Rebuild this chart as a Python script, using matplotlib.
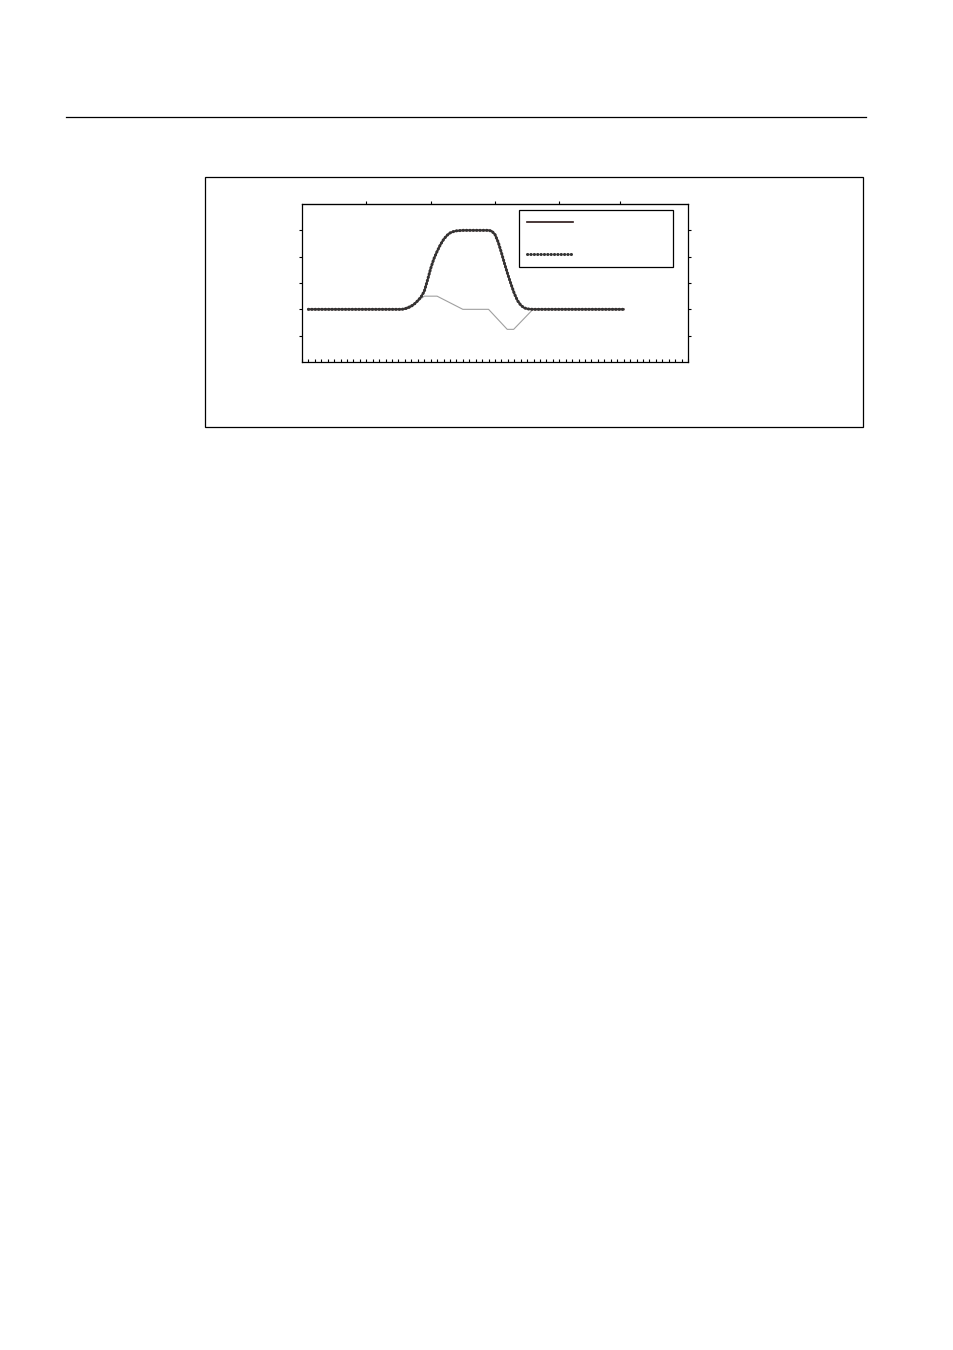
"""Step-profile chart: smooth plateau curve with a thin difference trace."""

import matplotlib

matplotlib.use("Agg")

import matplotlib.pyplot as plt
from matplotlib.lines import Line2D
from matplotlib.patches import Rectangle

FIG_W_PX = 954
FIG_H_PX = 1350
DPI = 100

# x positions (step 0.5) and the plateau profile
RISE_X = [15.5, 16.0, 16.5, 17.0, 17.5, 18.0, 18.5, 19.0, 19.5, 20.0,
          20.5, 21.0, 21.5, 22.0, 22.5, 23.0, 23.5, 24.0, 24.5]
RISE_Y = [0.0, 0.02, 0.06, 0.12, 0.21, 0.33, 0.47, 0.68, 1.10, 1.55,
          1.92, 2.20, 2.45, 2.65, 2.80, 2.90, 2.95, 2.98, 2.99]
PLATEAU_X = [25.0, 25.5, 26.0, 26.5, 27.0, 27.5, 28.0, 28.5, 29.0]
PLATEAU_Y = [3.0, 3.0, 3.0, 3.0, 3.0, 3.0, 3.0, 3.0, 3.0]
FALL_X = [29.5, 30.0, 30.5, 31.0, 31.5, 32.0, 32.5, 33.0, 33.5, 34.0,
          34.5, 35.0, 35.5]
FALL_Y = [2.97, 2.84, 2.55, 2.15, 1.72, 1.32, 0.95, 0.60, 0.33, 0.16,
          0.06, 0.02, 0.005]
BASE_LEFT_X = [1.0 + 0.5 * i for i in range(29)]      # 1.0 .. 15.0
BASE_RIGHT_X = [36.0 + 0.5 * i for i in range(29)]    # 36.0 .. 50.0

# thin trace (difference) breakpoints
DIFF_X = [1.0, 15.5, 17.5, 19.0, 21.0, 25.0, 29.0, 31.9, 32.9, 35.9, 50.0]
DIFF_Y = [0.0, 0.0, 0.22, 0.5, 0.5, 0.0, 0.0, -0.76, -0.76, 0.0, 0.0]

Y_TICKS = [-1, 0, 1, 2, 3]
TOP_TICKS = [10, 20, 30, 40, 49.5]
X_MINOR = list(range(0, 61))

profile_x = BASE_LEFT_X + RISE_X + PLATEAU_X + FALL_X + BASE_RIGHT_X
profile_y = [0.0] * len(BASE_LEFT_X) + RISE_Y + PLATEAU_Y + FALL_Y + [0.0] * len(BASE_RIGHT_X)

SOLID_COLOR = "#4a2a2a"
DOT_COLOR = "#333333"
DOT_STYLE = (0, (0.1, 1.0))


def px_box(left, top, right, bottom):
    """Figure-fraction rect from pixel edges (origin top-left)."""
    return [left / FIG_W_PX, 1 - bottom / FIG_H_PX,
            (right - left) / FIG_W_PX, (bottom - top) / FIG_H_PX]


fig = plt.figure(figsize=(FIG_W_PX / DPI, FIG_H_PX / DPI), dpi=DPI)

# page header rule and chart frame
fig.add_artist(Line2D([66 / FIG_W_PX, 866 / FIG_W_PX], [1 - 117 / FIG_H_PX] * 2,
                      color="black", lw=0.9))
fx, fy, fw, fh = px_box(205, 177, 863, 427)
fig.add_artist(Rectangle((fx, fy), fw, fh, fill=False, ec="black", lw=0.9))

ax = fig.add_axes(px_box(302, 204, 688, 362))
ax.plot(DIFF_X, DIFF_Y, color="#a0a0a0", lw=0.8, zorder=2)
ax.plot(profile_x, profile_y, color=SOLID_COLOR, lw=1.4, zorder=3)
ax.plot(profile_x, profile_y, ls=DOT_STYLE, color=DOT_COLOR, lw=2.2,
        dash_capstyle="round", zorder=4)

ax.set_xlim(0, 60)
ax.set_ylim(-2, 4)
for spine in ax.spines.values():
    spine.set_linewidth(0.9)

ax.set_yticks(Y_TICKS)
ax.set_yticklabels([])
ax.tick_params(axis="y", which="major", direction="out", length=2.5, width=0.8,
               left=True, right=True)
ax.set_xticks(X_MINOR)
ax.set_xticklabels([])
ax.tick_params(axis="x", which="major", direction="in", length=2.2, width=0.8,
               bottom=True, top=False)

top = ax.secondary_xaxis("top")
top.set_xticks(TOP_TICKS)
top.set_xticklabels([])
top.tick_params(direction="out", length=2.5, width=0.8)

legend_handles = [
    Line2D([], [], color="#2a1616", lw=1.2),
    Line2D([], [], ls=DOT_STYLE, color=DOT_COLOR, lw=2.2, dash_capstyle="round"),
]
lx, ly, lw_, lh = px_box(519, 210, 673, 268)
ax.legend(legend_handles, [" ", " "], loc="upper left",
          bbox_to_anchor=(lx, ly, lw_, lh), bbox_transform=fig.transFigure,
          mode="expand", fontsize=8, frameon=True, fancybox=False,
          edgecolor="black", framealpha=1, borderpad=0.7, labelspacing=1.95,
          handlelength=4.2, borderaxespad=0)
ax.get_legend().get_frame().set_linewidth(0.9)

fig.savefig("out.png", dpi=DPI)
